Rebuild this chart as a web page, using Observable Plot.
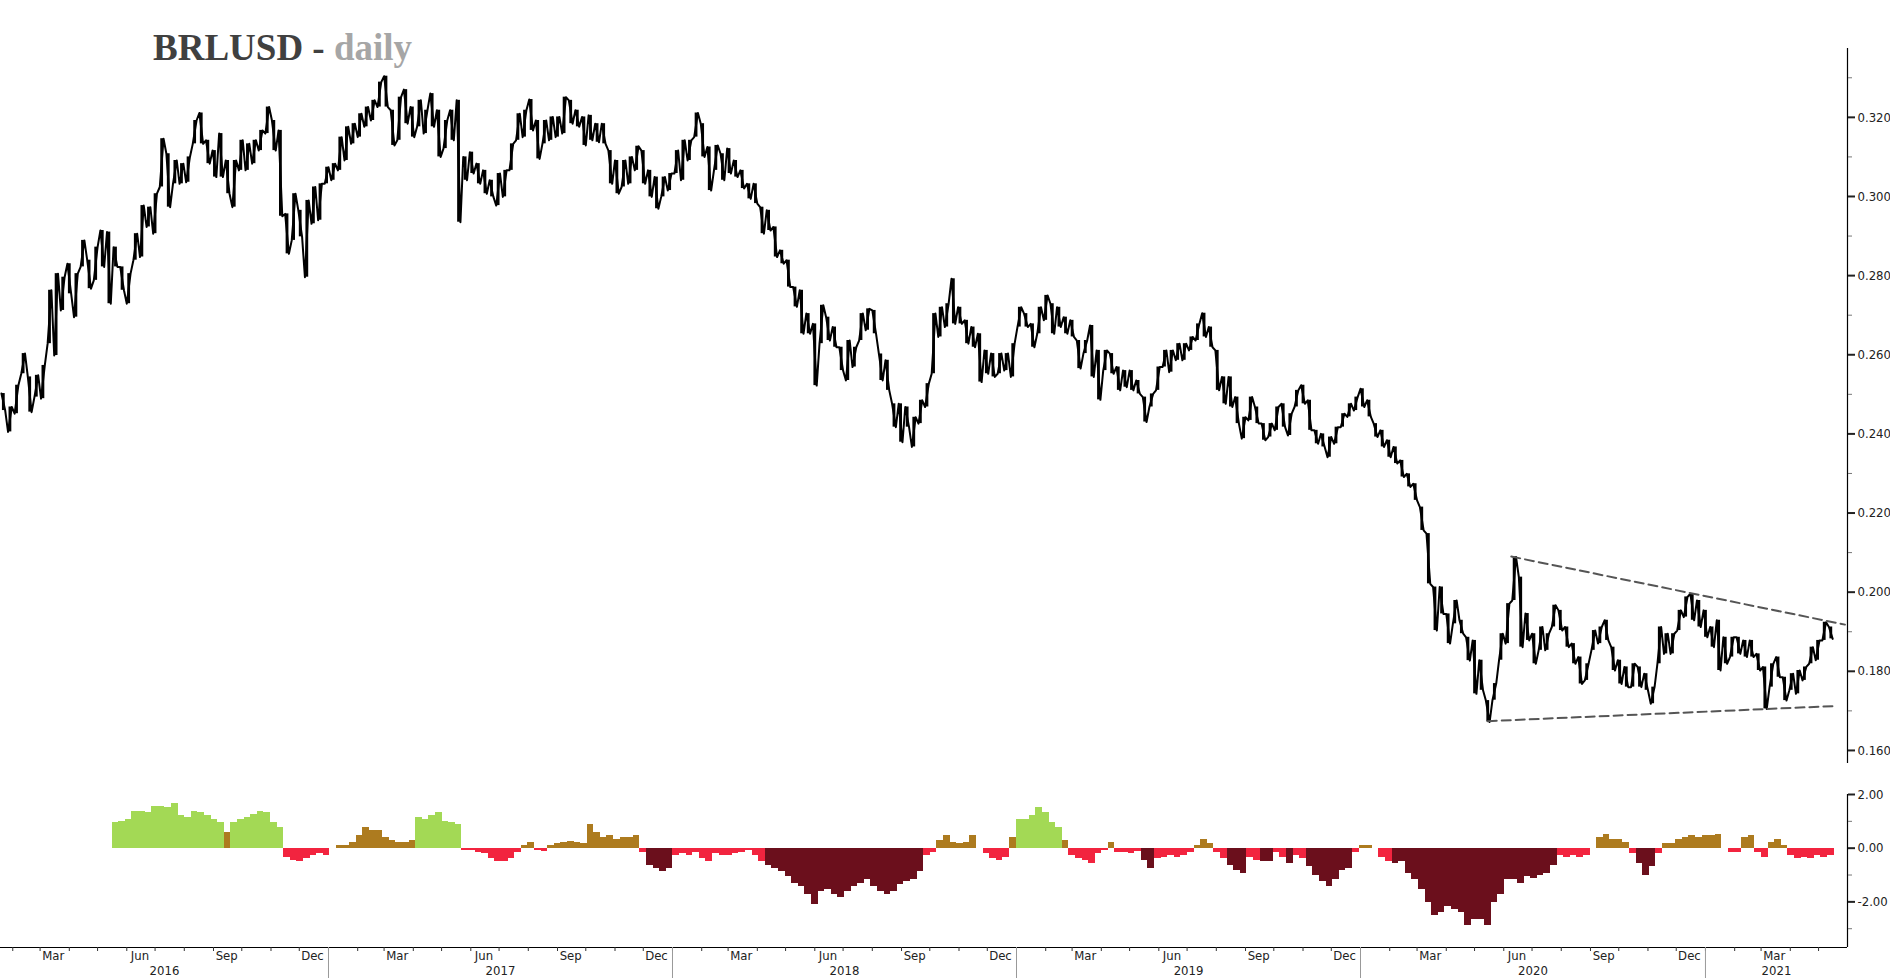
<!DOCTYPE html>
<html><head><meta charset="utf-8">
<script src="https://cdn.jsdelivr.net/npm/d3@7"></script>
<script src="https://cdn.jsdelivr.net/npm/@observablehq/plot@0.6"></script>
<style>
html,body{margin:0;padding:0;background:#fff;}
#wrap{position:relative;width:1890px;height:978px;overflow:hidden;background:#fff;}
#title{position:absolute;left:153px;top:29px;font:bold 37px "Liberation Serif","Times New Roman",serif;line-height:37px;color:#404040;white-space:nowrap;z-index:2;}
#title span{color:#a6a6a6;}
#price{position:absolute;left:0;top:0;}
#osc{position:absolute;left:0;top:780px;}
</style></head>
<body><div id="wrap"><div id="title">BRLUSD - <span>daily</span></div><div id="price"></div><div id="osc"></div></div>
<script>
// Weekly high / low of BRLUSD (first week starting 2016-01-22)
const weekStart = "2016-01-22";
const hi = [0.2502,0.2468,0.2523,0.2603,0.2544,0.2548,0.2573,0.2763,0.2805,0.2796,
0.2830,0.2805,0.2889,0.2839,0.2872,0.2914,0.2910,0.2872,0.2822,0.2805,
0.2906,0.2977,0.2973,0.3007,0.3146,0.3108,0.3091,0.3083,0.3100,0.3192,
0.3211,0.3142,0.3116,0.3159,0.3091,0.3091,0.3142,0.3133,0.3142,0.3167,
0.3226,0.3192,0.3167,0.2956,0.3007,0.2965,0.2990,0.3024,0.3032,0.3074,
0.3083,0.3150,0.3176,0.3184,0.3209,0.3226,0.3243,0.3289,0.3304,0.3218,
0.3251,0.3270,0.3226,0.3243,0.3218,0.3260,0.3218,0.3192,0.3218,0.3243,
0.3100,0.3112,0.3083,0.3066,0.3041,0.3058,0.3066,0.3133,0.3209,0.3218,
0.3245,0.3192,0.3192,0.3201,0.3201,0.3251,0.3243,0.3218,0.3201,0.3205,
0.3184,0.3184,0.3116,0.3091,0.3091,0.3100,0.3127,0.3116,0.3066,0.3049,
0.3049,0.3058,0.3116,0.3142,0.3142,0.3211,0.3184,0.3125,0.3129,0.3108,
0.3121,0.3091,0.3066,0.3032,0.3032,0.2973,0.2965,0.2923,0.2864,0.2839,
0.2771,0.2763,0.2704,0.2678,0.2725,0.2695,0.2670,0.2619,0.2636,0.2619,
0.2704,0.2716,0.2712,0.2602,0.2586,0.2476,0.2476,0.2468,0.2442,0.2485,
0.2527,0.2704,0.2720,0.2729,0.2792,0.2720,0.2687,0.2670,0.2653,0.2611,
0.2603,0.2603,0.2603,0.2628,0.2720,0.2704,0.2678,0.2720,0.2750,0.2729,
0.2720,0.2695,0.2687,0.2636,0.2636,0.2674,0.2611,0.2611,0.2603,0.2569,
0.2560,0.2560,0.2535,0.2493,0.2501,0.2569,0.2611,0.2611,0.2628,0.2628,
0.2645,0.2678,0.2705,0.2670,0.2611,0.2544,0.2544,0.2493,0.2442,0.2493,
0.2468,0.2426,0.2426,0.2468,0.2476,0.2451,0.2510,0.2523,0.2485,0.2409,
0.2400,0.2392,0.2417,0.2451,0.2476,0.2493,0.2514,0.2485,0.2426,0.2409,
0.2384,0.2367,0.2333,0.2299,0.2274,0.2215,0.2148,0.2013,0.2013,0.1945,
0.1979,0.1929,0.1886,0.1878,0.1828,0.1726,0.1769,0.1895,0.1971,0.2089,
0.2038,0.1946,0.1895,0.1912,0.1895,0.1967,0.1954,0.1912,0.1870,0.1836,
0.1819,0.1903,0.1912,0.1929,0.1861,0.1828,0.1811,0.1819,0.1811,0.1794,
0.1760,0.1912,0.1895,0.1895,0.1954,0.1988,0.1996,0.1979,0.1954,0.1912,
0.1929,0.1886,0.1886,0.1886,0.1878,0.1878,0.1844,0.1811,0.1819,0.1836,
0.1785,0.1794,0.1802,0.1811,0.1861,0.1878,0.1924,0.1912];
const lo = [0.2459,0.2405,0.2451,0.2552,0.2455,0.2493,0.2489,0.2628,0.2598,0.2712,
0.2754,0.2695,0.2822,0.2767,0.2788,0.2822,0.2729,0.2822,0.2763,0.2729,
0.2839,0.2847,0.2923,0.2906,0.3024,0.2973,0.3032,0.3032,0.3036,0.3133,
0.3133,0.3083,0.3049,0.3049,0.3007,0.2973,0.3066,0.3066,0.3083,0.3116,
0.3159,0.3116,0.2950,0.2855,0.2889,0.2898,0.2796,0.2931,0.2940,0.3032,
0.3041,0.3066,0.3091,0.3133,0.3150,0.3176,0.3192,0.3226,0.3226,0.3129,
0.3142,0.3184,0.3150,0.3176,0.3159,0.3176,0.3100,0.3121,0.3142,0.2935,
0.3041,0.3058,0.3032,0.3007,0.2999,0.2977,0.2999,0.3066,0.3142,0.3150,
0.3167,0.3095,0.3133,0.3142,0.3150,0.3159,0.3184,0.3176,0.3129,0.3142,
0.3137,0.3133,0.3032,0.3007,0.3024,0.3032,0.3066,0.3032,0.2999,0.2969,
0.2999,0.3015,0.3058,0.3041,0.3091,0.3150,0.3100,0.3015,0.3066,0.3041,
0.3058,0.3049,0.3020,0.2994,0.2982,0.2906,0.2914,0.2847,0.2830,0.2771,
0.2721,0.2653,0.2653,0.2522,0.2628,0.2636,0.2619,0.2560,0.2535,0.2569,
0.2636,0.2662,0.2653,0.2535,0.2510,0.2417,0.2379,0.2417,0.2367,0.2426,
0.2468,0.2552,0.2645,0.2670,0.2678,0.2678,0.2628,0.2619,0.2531,0.2552,
0.2544,0.2552,0.2560,0.2544,0.2670,0.2670,0.2619,0.2653,0.2687,0.2653,
0.2670,0.2653,0.2645,0.2565,0.2603,0.2544,0.2486,0.2560,0.2552,0.2510,
0.2518,0.2510,0.2501,0.2430,0.2468,0.2510,0.2569,0.2556,0.2586,0.2586,
0.2611,0.2636,0.2645,0.2619,0.2510,0.2476,0.2468,0.2426,0.2388,0.2434,
0.2426,0.2384,0.2392,0.2409,0.2417,0.2396,0.2468,0.2476,0.2409,0.2375,
0.2367,0.2341,0.2375,0.2417,0.2443,0.2459,0.2468,0.2443,0.2392,0.2367,
0.2341,0.2325,0.2291,0.2266,0.2232,0.2156,0.2021,0.1903,0.1945,0.1870,
0.1920,0.1895,0.1827,0.1743,0.1752,0.1672,0.1727,0.1828,0.1870,0.1979,
0.1861,0.1878,0.1819,0.1853,0.1853,0.1912,0.1903,0.1861,0.1819,0.1768,
0.1777,0.1853,0.1870,0.1878,0.1802,0.1768,0.1760,0.1760,0.1760,0.1752,
0.1718,0.1819,0.1844,0.1844,0.1903,0.1937,0.1929,0.1912,0.1886,0.1861,
0.1802,0.1819,0.1836,0.1844,0.1836,0.1836,0.1802,0.1705,0.1760,0.1785,
0.1726,0.1752,0.1743,0.1777,0.1819,0.1828,0.1878,0.1882];

// Weekly oscillator values and regime (G strong up, B up, R down, M strong down)
const oscStart = "2016-05-20";
const osc = [0.95,1.01,1.07,1.38,1.38,1.32,1.56,1.56,1.50,1.65,
1.20,1.13,1.38,1.32,1.20,1.07,0.95,0.59,0.95,1.07,
1.13,1.26,1.35,1.32,0.95,0.77,-0.33,-0.45,-0.50,-0.39,
-0.27,-0.21,-0.27,-0.02,0.10,0.10,0.22,0.46,0.77,0.65,
0.65,0.40,0.28,0.22,0.22,0.28,1.13,1.07,1.20,1.32,
1.01,0.95,0.89,-0.09,-0.09,-0.15,-0.21,-0.39,-0.51,-0.51,
-0.39,-0.15,0.10,0.22,-0.09,-0.11,0.10,0.16,0.22,0.26,
0.22,0.16,0.89,0.59,0.40,0.46,0.34,0.40,0.40,0.46,
-0.15,-0.63,-0.76,-0.88,-0.76,-0.27,-0.21,-0.27,-0.15,-0.39,
-0.51,-0.21,-0.27,-0.27,-0.21,-0.15,-0.09,-0.27,-0.51,-0.63,
-0.76,-0.88,-1.06,-1.30,-1.43,-1.73,-2.10,-1.61,-1.55,-1.73,
-1.85,-1.61,-1.43,-1.30,-1.18,-1.43,-1.61,-1.73,-1.61,-1.37,
-1.24,-1.18,-0.88,-0.27,-0.15,0.28,0.46,0.22,0.16,0.22,
0.46,-0.02,-0.21,-0.39,-0.45,-0.33,0.40,1.07,1.07,1.20,
1.50,1.32,0.95,0.77,0.28,-0.27,-0.39,-0.45,-0.57,-0.21,
-0.09,0.22,-0.15,-0.15,-0.21,-0.11,-0.45,-0.76,-0.39,-0.33,
-0.27,-0.33,-0.27,-0.15,0.10,0.34,0.16,-0.15,-0.39,-0.63,
-0.82,-0.94,-0.33,-0.45,-0.51,-0.51,-0.15,-0.33,-0.57,-0.27,
-0.39,-0.70,-1.00,-1.24,-1.43,-1.18,-0.82,-0.76,-0.15,0.10,
0.10,-0.02,-0.33,-0.51,-0.57,-0.51,-0.94,-1.18,-1.55,-2.04,
-2.52,-2.40,-2.16,-2.28,-2.40,-2.89,-2.65,-2.65,-2.89,-2.04,
-1.73,-1.18,-1.18,-1.30,-1.06,-1.12,-1.00,-0.94,-0.63,-0.27,
-0.33,-0.27,-0.33,-0.27,-0.02,0.40,0.52,0.34,0.34,0.22,
-0.21,-0.57,-1.00,-0.70,-0.21,0.16,0.16,0.34,0.40,0.46,
0.40,0.46,0.46,0.52,-0.02,-0.15,-0.15,0.40,0.46,-0.15,
-0.33,0.22,0.34,0.10,-0.27,-0.39,-0.33,-0.39,-0.27,-0.33,-0.27];
const oscRegime = ("GGGGGGGGGG"+"GGGGGGGBGG"+"GGGGGGRRRR"+"RRRRBBBBBB"+"BBBBBBGGGG"+
"GGGRRRRRRR"+"RRBBRRBBBB"+"BBBBBBBBBB"+"RMMMMRRRRR"+"RRRRRRRRRM"+
"MMMMMMMMMM"+"MMMMMMMMMM"+"MMMRRBBBBB"+"BRRRRRBGGG"+"GGGGBRRRRR"+
"RBRRRRMMRR"+"RRRRBBBRRM"+"MMRRMMRRMR"+"RMMMMMMMRB"+"BRRRMMMMMM"+
"MMMMMMMMMM"+"MMMMMMMMMR"+"RRRRRBBBBB"+"RMMMRBBBBB"+"BBBBRRRBBR"+
"RBBBRRRRRR"+"R").split("");

// Triangle trend lines
const trendUpper = [{date:"2020-06-09", v:0.2090},{date:"2021-05-29", v:0.1918}];
const trendLower = [{date:"2020-05-15", v:0.1674},{date:"2021-05-16", v:0.1712}];

// Axis ticks / labels
const priceTicks = [0.16,0.18,0.20,0.22,0.24,0.26,0.28,0.30,0.32];
const priceMinor = [0.17,0.19,0.21,0.23,0.25,0.27,0.29,0.31,0.33];
const oscTicks = [2,0,-2];
const oscMinor = [1,-1,-3];
const monthLabels = ["Mar","Jun","Sep","Dec"];
const monthLabelIdx = [2,5,8,11];
const yearLabels = [2016,2017,2018,2019,2020,2021];

const regimeNames = ["G","B","R","M"];
const regimeColors = ["#a3d955","#ad7b1f","#f2243f","#6b0f1c"];

// ---------------------------------------------------------------
const DAY = 864e5;
const X0 = new Date(Date.UTC(2016,0,19));
const X1 = new Date(Date.UTC(2021,4,31,17));
const priceDomain = [0.1567, 0.3374];
const oscDomain = [-3.70, 2.0];
const t0 = new Date(weekStart + "T00:00:00Z");
const weeks = hi.map((h, i) => ({date: new Date(+t0 + i*7*DAY), hi: h, lo: lo[i]}));
const zig = [];
weeks.forEach((w, i) => {
  const nx = weeks[i+1] || w, pv = weeks[i-1] || w;
  const up = (nx.hi + nx.lo) >= (pv.hi + pv.lo);
  const a = new Date(+w.date - 2*DAY), b = new Date(+w.date + 2*DAY);
  if (up) zig.push({date:a, v:w.lo}, {date:b, v:w.hi});
  else zig.push({date:a, v:w.hi}, {date:b, v:w.lo});
});
const o0 = new Date(oscStart + "T00:00:00Z");
const oscData = osc.map((v, i) => ({x1: new Date(+o0 + (i*7-3.5)*DAY), x2: new Date(+o0 + (i*7+3.5)*DAY), v, r: oscRegime[i]}));
const tU = trendUpper.map(d => ({date: new Date(d.date+"T00:00:00Z"), v: d.v}));
const tL = trendLower.map(d => ({date: new Date(d.date+"T00:00:00Z"), v: d.v}));

const font = "'DejaVu Sans Condensed','DejaVu Sans',sans-serif";

const price = Plot.plot({
  width: 1890, height: 780,
  marginLeft: 0, marginRight: 43, marginTop: 48, marginBottom: 17,
  style: {fontFamily: font, fontSize: "13px", color: "#222", background: "transparent", overflow: "hidden"},
  x: {type: "utc", domain: [X0, X1], axis: null},
  y: {domain: priceDomain, axis: null},
  marks: [
    Plot.ruleX(weeks, {x: "date", y1: "lo", y2: "hi", stroke: "#000", strokeWidth: 2.8}),
    Plot.line(zig, {x: "date", y: "v", stroke: "#000", strokeWidth: 2}),
    Plot.line(tU, {x: "date", y: "v", stroke: "#555", strokeWidth: 2, strokeDasharray: "9,5"}),
    Plot.line(tL, {x: "date", y: "v", stroke: "#555", strokeWidth: 2, strokeDasharray: "9,5"}),
    Plot.ruleX([X1], {stroke: "#000", strokeWidth: 1.2}),
    Plot.axisY(priceMinor.filter(v => v < priceDomain[1]), {anchor: "right", label: null, tickSize: 4, tickFormat: () => "", stroke: "#777"}),
    Plot.axisY(priceTicks, {anchor: "right", label: null, tickSize: 7, strokeWidth: 2, tickPadding: 3, tickFormat: d => d.toFixed(4), fontSize: 13, fill: "#222"})
  ]
});
document.getElementById("price").append(price);

const months = d3.utcMonth.range(X0, X1);
const yearsTicks = d3.utcYear.range(X0, X1);
const mLabels = [];
for (const y of yearLabels) monthLabelIdx.forEach((m, k) => {
  const d = new Date(Date.UTC(y, m, 15));
  if (d > X0 && d < X1) mLabels.push({x: d, t: monthLabels[k]});
});
const yLabels = yearLabels.map(y => {
  const a = new Date(Math.max(+X0, Date.UTC(y,0,1))), b = new Date(Math.min(+X1, Date.UTC(y+1,0,1)));
  return {x: new Date((+a + +b)/2), t: String(y)};
});

const oscPlot = Plot.plot({
  width: 1890, height: 198,
  marginLeft: 0, marginRight: 43, marginTop: 14, marginBottom: 31,
  style: {fontFamily: font, fontSize: "13px", color: "#222", background: "transparent", overflow: "hidden"},
  x: {type: "utc", domain: [X0, X1], axis: null},
  y: {domain: oscDomain, axis: null},
  color: {domain: regimeNames, range: regimeColors},
  marks: [
    Plot.rectY(oscData, {x1: "x1", x2: "x2", y1: 0, y2: "v", fill: "r", shapeRendering: "crispEdges"}),
    Plot.ruleX([X1], {stroke: "#000", strokeWidth: 1.2}),
    Plot.ruleY([oscDomain[0]], {stroke: "#000", strokeWidth: 1.2}),
    Plot.axisY(oscMinor, {anchor: "right", label: null, tickSize: 4, tickFormat: () => "", stroke: "#777"}),
    Plot.axisY(oscTicks, {anchor: "right", label: null, tickSize: 7, strokeWidth: 2, tickPadding: 3, tickFormat: d => d.toFixed(2), fontSize: 13, fill: "#222"}),
    Plot.axisX(months, {anchor: "bottom", label: null, tickSize: 4, tickFormat: () => "", stroke: "#333"}),
    Plot.axisX(yearsTicks, {anchor: "bottom", label: null, tickSize: 31, tickFormat: () => "", stroke: "#999"}),
    Plot.text(mLabels, {x: "x", text: "t", frameAnchor: "bottom", dy: 12, fontSize: 13, fill: "#222"}),
    Plot.text(yLabels, {x: "x", text: "t", frameAnchor: "bottom", dy: 27, fontSize: 13, fill: "#222"})
  ]
});
document.getElementById("osc").append(oscPlot);
</script>
</body></html>
